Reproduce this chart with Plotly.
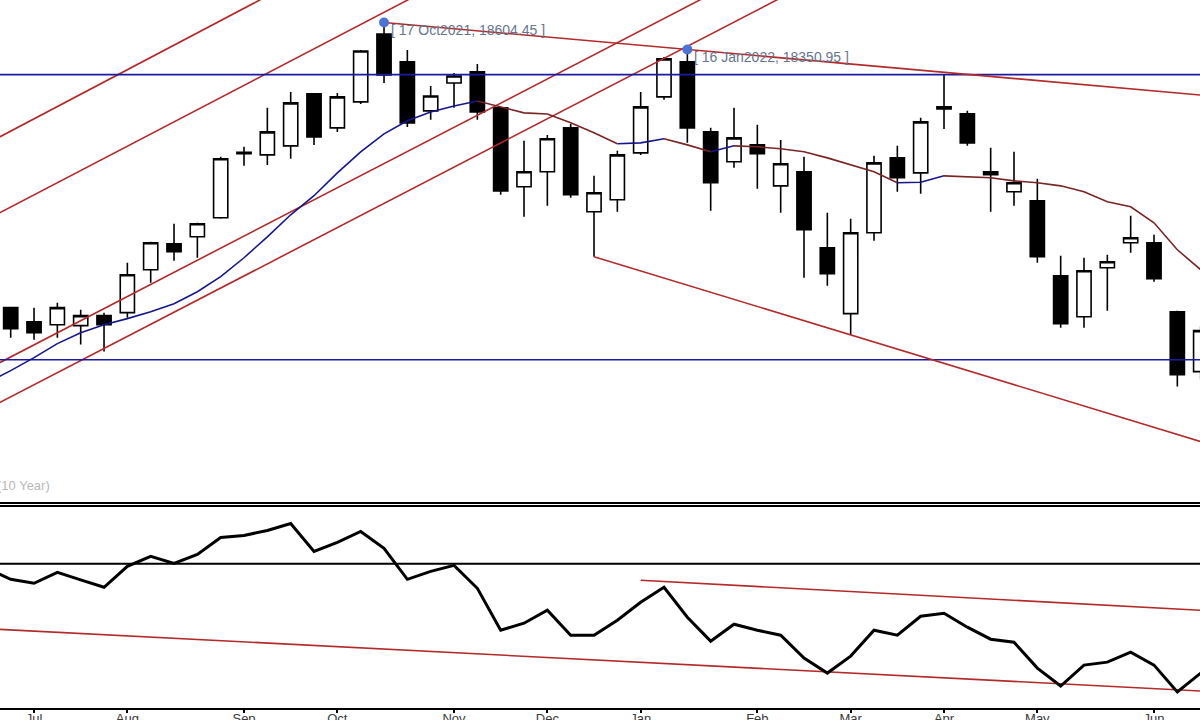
import pandas as pd
import plotly.graph_objects as go

# ---------------- data ----------------
# weekly bars (week starting Sunday); first entry is a lead week used only by the lines
weeks = list(pd.date_range("2021-06-20", periods=53, freq="7D"))
candle_weeks = weeks[1:]

open_ = [15924, 15792, 15764, 15755, 15849, 15877, 16281, 16525, 16590, 16769, 17385, 17360,
         17445, 17933, 17614, 17858, 18496, 18234, 17774, 18036, 18140, 17802, 17060, 17201,
         17614, 16825, 16938, 17379, 17905, 18234, 17576, 17295, 17454, 17069, 17201, 16487,
         15868, 16628, 17332, 17191, 17811, 17745, 17201, 17013, 16929, 16224, 15839, 16299,
         16534, 16534, 15886, 15323]
high = [15933, 15924, 15971, 15905, 15877, 16346, 16544, 16713, 16722, 17342, 17436, 17802,
        17952, 17942, 17942, 18346, 18604.45, 18346, 18008, 18130, 18215, 17811, 17492, 17548,
        17651, 17163, 17398, 17952, 18280, 18350.95, 17614, 17802, 17642, 17501, 17342, 16816,
        16760, 17351, 17445, 17708, 18112, 17774, 17426, 17389, 17135, 16412, 16393, 16422,
        16788, 16609, 15896, 15750]
low = [15642, 15623, 15642, 15577, 15511, 15830, 16159, 16365, 16393, 16760, 17257, 17266,
       17323, 17454, 17576, 17839, 18036, 17623, 17689, 17802, 17689, 16985, 16778, 16882,
       16957, 16403, 16825, 17360, 17877, 17473, 16835, 17238, 17041, 16816, 16206, 16130,
       15670, 16553, 17013, 16994, 17604, 17445, 16825, 16882, 16346, 15736, 15736, 15896,
       16440, 16168, 15182, 15250]
close = [15727, 15689, 15924, 15849, 15764, 16234, 16534, 16450, 16713, 17323, 17370, 17576,
         17849, 17529, 17905, 18337, 18112, 17661, 17914, 18102, 17764, 17022, 17201, 17511,
         16985, 17004, 17360, 17811, 18262, 17614, 17098, 17520, 17370, 17276, 16656, 16243,
         16628, 17285, 17145, 17670, 17792, 17473, 17173, 17098, 16403, 15774, 16271, 16356,
         16581, 16196, 15295, 15708]

# moving average (one value per entry of `weeks`)
moving_avg = [15220, 15332, 15454, 15586, 15689, 15764, 15821, 15886, 15961, 16074, 16215,
              16393, 16590, 16797, 16976, 17191, 17389, 17558, 17680, 17764, 17820, 17867,
              17811, 17755, 17745, 17661, 17567, 17464, 17473, 17511, 17454, 17389, 17445,
              17436, 17417, 17389, 17332, 17266, 17201, 17098, 17103, 17163, 17154, 17145,
              17116, 17098, 17069, 17013, 16919, 16872, 16722, 16468, 16281]

# lower-panel oscillator (one value per entry of `weeks`)
oscillator = [59.1, 56.9, 56.1, 58.3, 56.8, 55.3, 59.5, 61.5, 60.1, 61.9, 65.3, 65.7, 66.7,
              68.1, 62.5, 64.3, 66.5, 63.1, 56.9, 58.5, 59.7, 55.1, 46.7, 48.1, 50.7, 45.7,
              45.7, 48.7, 52.3, 55.3, 49.3, 44.5, 47.9, 46.7, 45.7, 41.1, 38.1, 41.5, 46.7,
              45.7, 49.5, 50.1, 47.3, 44.9, 44.3, 39.1, 35.5, 39.7, 40.3, 42.3, 39.7, 34.3, 38.1]
osc_level = 60

# drawn studies (price levels at given weeks)
channel_start = [17468, 16756, 15347, 14972]      # at weeks[0]
channel_end = [22201, 21444, 20005, 19631]        # at weeks[41]
peak_idx = [16, 29]                               # candle indices of the marked highs
down_line_end = 17922                             # at weeks[52]
support_start, support_end = 16403, 14666         # weeks[26] -> weeks[52]
h_levels = [18114, 15435]
osc_lower = [47.0, 34.5]                          # weeks[0] -> weeks[52]
osc_upper = [56.7, 50.7]                          # weeks[28] -> weeks[52]

tick_dates = ["2021-07-04", "2021-08-01", "2021-09-05", "2021-10-03", "2021-11-07",
              "2021-12-05", "2022-01-02", "2022-02-06", "2022-03-06", "2022-04-03",
              "2022-05-01", "2022-06-05"]
tick_labels = ["Jul", "Aug", "Sep", "Oct", "Nov", "Dec", "Jan", "Feb", "Mar", "Apr", "May", "Jun"]

# ---------------- styles ----------------
RED = "#b42a2a"
NAVY = "#1b1ba0"
MA_UP = "#16168c"
MA_DN = "#7a2424"
X_RANGE = ["2021-06-23 19:00", "2022-06-18 19:12"]

fig = go.Figure()

fig.add_trace(go.Candlestick(
    x=candle_weeks, open=open_, high=high, low=low, close=close,
    increasing=dict(line=dict(color="black", width=1.6), fillcolor="white"),
    decreasing=dict(line=dict(color="black", width=1.6), fillcolor="black"),
    whiskerwidth=0, hoverinfo="skip", xaxis="x", yaxis="y"))


def line(xs, ys, color, width=1.6, ax=("x", "y")):
    fig.add_trace(go.Scatter(x=xs, y=ys, mode="lines", line=dict(color=color, width=width),
                             hoverinfo="skip", xaxis=ax[0], yaxis=ax[1]))


# rising channel lines
for s, e in zip(channel_start, channel_end):
    line([weeks[0], weeks[41]], [s, e], RED)

# horizontal levels
for lv in h_levels:
    line([weeks[0], weeks[52]], [lv, lv], NAVY)

# falling line from the October high
line([candle_weeks[peak_idx[0]], weeks[52]], [high[peak_idx[0]], down_line_end], RED)
# support line from the December low
line([weeks[26], weeks[52]], [support_start, support_end], RED)

# moving average coloured by direction
dirs = [moving_avg[k + 1] >= moving_avg[k] for k in range(len(moving_avg) - 1)]
start = 0
for k in range(1, len(dirs) + 1):
    if k == len(dirs) or dirs[k] != dirs[start]:
        line(weeks[start:k + 1], moving_avg[start:k + 1], MA_UP if dirs[start] else MA_DN)
        start = k

# marked highs
fig.add_trace(go.Scatter(
    x=[candle_weeks[i] for i in peak_idx], y=[high[i] for i in peak_idx], mode="markers",
    marker=dict(color="#4a74d9", size=10), hoverinfo="skip", xaxis="x", yaxis="y"))
for i in peak_idx:
    d = candle_weeks[i]
    fig.add_annotation(x=d, y=high[i], xref="x", yref="y",
                       text=f"[ {d.day} {d.strftime('%b%Y')}, {high[i]:.2f} ]",
                       showarrow=False, xanchor="left", yanchor="middle", xshift=5, yshift=-8,
                       font=dict(family="Liberation Sans, Arial", size=14, color="#66758f"))

# ---------------- lower panel ----------------
line([weeks[0], weeks[52]], [osc_level, osc_level], "black", 2, ("x2", "y2"))
line([weeks[0], weeks[52]], osc_lower, RED, 1.6, ("x2", "y2"))
line([weeks[28], weeks[52]], osc_upper, RED, 1.6, ("x2", "y2"))
line(weeks, oscillator, "black", 3, ("x2", "y2"))

fig.add_annotation(x=-0.004, y=0.3136, xref="paper", yref="paper", text="(10 Year)",
                   showarrow=False, xanchor="left", yanchor="middle",
                   font=dict(family="Liberation Sans, Arial", size=13, color="#b8b8b8"))

fig.update_layout(
    width=1200, height=720, template="none",
    margin=dict(l=0, r=0, t=0, b=12),
    paper_bgcolor="white", plot_bgcolor="white", showlegend=False,
    boxgap=0.22, boxgroupgap=0.22,
    xaxis=dict(domain=[0, 1], range=X_RANGE, anchor="y", showticklabels=False, ticks="",
               showgrid=False, zeroline=False, showline=True, linecolor="black", linewidth=1.6,
               rangeslider=dict(visible=False), automargin=False),
    yaxis=dict(domain=[0.2903, 1], range=[14093, 18815.7], visible=False, automargin=False),
    xaxis2=dict(domain=[0, 1], range=X_RANGE, anchor="y2", tickvals=tick_dates,
                ticktext=tick_labels, ticks="outside", ticklen=3, tickwidth=1.5,
                tickcolor="black", showgrid=False, zeroline=False, showline=True, mirror=True,
                linecolor="black", linewidth=1.6, automargin=False, ticklabelstandoff=-5,
                tickfont=dict(family="Liberation Sans Narrow, Arial Narrow, Liberation Sans",
                              size=13, color="#3a3a3a")),
    yaxis2=dict(domain=[0, 0.2832], range=[31.1, 71.3], visible=False, automargin=False),
)

fig.write_html("out.html", config={"displayModeBar": False},
               post_script="document.body.style.margin='0';")
